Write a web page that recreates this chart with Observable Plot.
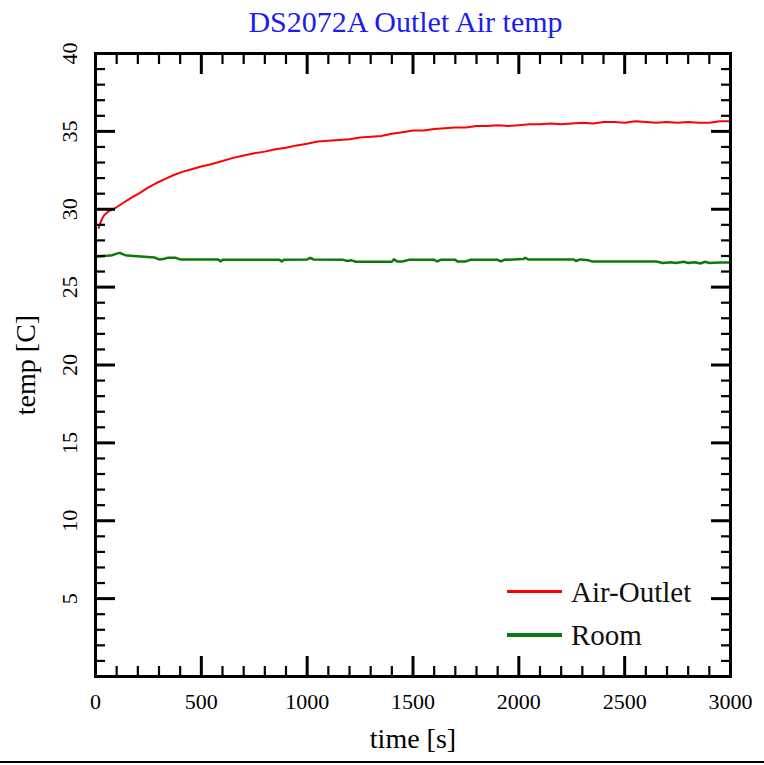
<!DOCTYPE html>
<html>
<head>
<meta charset="utf-8">
<script src="https://cdn.jsdelivr.net/npm/d3@7"></script>
<script src="https://cdn.jsdelivr.net/npm/@observablehq/plot@0.6"></script>
<style>
  body { margin: 0; background: #fff; font-family: "Liberation Serif", serif; }
  #wrap { position: relative; width: 764px; height: 765px; overflow: hidden; background: #fff; }
  #title { width: 764px; height: 40px; line-height: 44px; font-size: 30px; color: #1c1cf2;
           text-align: center; padding-left: 47px; box-sizing: border-box; white-space: nowrap; }
  .lg-line { position: absolute; left: 507px; width: 55px; }
  .lg-text { position: absolute; left: 571px; font-size: 29px; line-height: 29px; color: #111; white-space: nowrap; }
  #bottomline { position: absolute; left: 0; top: 761px; width: 764px; height: 2px; background: #000; }
</style>
</head>
<body>
<div id="wrap">
  <div id="title">DS2072A Outlet Air temp</div>
  <div id="chart"></div>
  <div class="lg-line" style="top:590px;height:3px;background:#ff0000;"></div>
  <div class="lg-text" style="top:578px;">Air-Outlet</div>
  <div class="lg-line" style="top:633px;height:3.5px;background:#0a7a0a;"></div>
  <div class="lg-text" style="top:621px;">Room</div>
  <div id="bottomline"></div>
</div>
<script>
// ---- data ----
const outletTime = [15, 20, 30, 40, 60, 90, 130, 170, 210, 250, 290, 330, 370, 410, 450, 500, 550, 600, 650, 700,
  750, 800, 850, 900, 950, 1000, 1050, 1100, 1150, 1200, 1250, 1300, 1350, 1400, 1450, 1500, 1550, 1600, 1650, 1700,
  1750, 1800, 1850, 1900, 1950, 2000, 2050, 2100, 2150, 2200, 2250, 2300, 2350, 2400, 2450, 2500, 2550, 2600, 2650,
  2700, 2750, 2800, 2850, 2900, 2950, 3000];
const outletTemp = [28.8, 29.0, 29.35, 29.6, 29.85, 30.05, 30.4, 30.75, 31.05, 31.4, 31.7, 31.95, 32.2, 32.4, 32.55,
  32.75, 32.9, 33.1, 33.3, 33.45, 33.6, 33.7, 33.85, 33.95, 34.1, 34.2, 34.35, 34.4, 34.45, 34.5, 34.6, 34.65, 34.7,
  34.85, 34.95, 35.05, 35.05, 35.15, 35.2, 35.25, 35.25, 35.35, 35.35, 35.4, 35.35, 35.4, 35.45, 35.45, 35.5, 35.45,
  35.5, 35.55, 35.5, 35.6, 35.6, 35.55, 35.65, 35.6, 35.55, 35.6, 35.55, 35.6, 35.55, 35.55, 35.65, 35.65];

const roomTime = [0, 40, 80, 100, 115, 140, 180, 230, 280, 300, 320, 340, 380, 400, 500, 580, 590, 600, 700, 870,
  880, 890, 1000, 1015, 1030, 1170, 1190, 1210, 1230, 1400, 1410, 1425, 1450, 1480, 1600, 1615, 1630, 1700, 1710,
  1750, 1770, 1900, 1915, 1930, 2020, 2030, 2045, 2260, 2270, 2290, 2330, 2345, 2650, 2680, 2720, 2740, 2780, 2800,
  2830, 2860, 2880, 2900, 2950, 3000];
const roomTemp = [26.95, 27.0, 27.05, 27.15, 27.2, 27.05, 27.0, 26.95, 26.9, 26.78, 26.8, 26.88, 26.88, 26.78, 26.78,
  26.78, 26.65, 26.75, 26.75, 26.75, 26.65, 26.75, 26.78, 26.88, 26.78, 26.75, 26.68, 26.72, 26.63, 26.63, 26.78,
  26.65, 26.65, 26.75, 26.75, 26.65, 26.75, 26.75, 26.65, 26.65, 26.75, 26.75, 26.65, 26.75, 26.8, 26.88, 26.78,
  26.78, 26.68, 26.78, 26.72, 26.65, 26.65, 26.55, 26.6, 26.55, 26.63, 26.55, 26.6, 26.52, 26.63, 26.55, 26.58, 26.58];

const xTickLabels = [0, 500, 1000, 1500, 2000, 2500, 3000];
const yTickLabels = [5, 10, 15, 20, 25, 30, 35, 40];
const xMajorTicks = [0, 500, 1000, 1500, 2000, 2500, 3000];
const yMajorTicks = [0, 5, 10, 15, 20, 25, 30, 35, 40];
const xMinorTicks = d3.range(0, 3001, 100).filter(v => v % 500 !== 0);
const yMinorTicks = d3.range(0, 41, 1).filter(v => v % 5 !== 0);

const outlet = outletTime.map((t, i) => ({t, v: outletTemp[i]}));
const room = roomTime.map((t, i) => ({t, v: roomTemp[i]}));

const noText = () => "";
const plain = d => String(d);
const tickMarks = [];
for (const anchor of ["bottom", "top"]) {
  tickMarks.push(Plot.axisX(xMinorTicks, {anchor, tickSize: -10, strokeWidth: 2.2, tickFormat: noText, label: null}));
  tickMarks.push(Plot.axisX(xMajorTicks, {anchor, tickSize: -20, strokeWidth: 3, tickFormat: noText, label: null}));
}
for (const anchor of ["left", "right"]) {
  tickMarks.push(Plot.axisY(yMinorTicks, {anchor, tickSize: -10, strokeWidth: 2.2, tickFormat: noText, label: null}));
  tickMarks.push(Plot.axisY(yMajorTicks, {anchor, tickSize: -20, strokeWidth: 3, tickFormat: noText, label: null}));
}

const chart = Plot.plot({
  width: 764,
  height: 725,
  marginTop: 13,
  marginBottom: 89,
  marginLeft: 95,
  marginRight: 34,
  style: {fontFamily: "Liberation Serif", fontSize: "22px", background: "white", color: "black", overflow: "visible"},
  x: {domain: [0, 3000], axis: null},
  y: {domain: [0, 40], axis: null},
  marks: [
    Plot.line(outlet, {x: "t", y: "v", stroke: "#ff0000", strokeWidth: 2}),
    Plot.line(room, {x: "t", y: "v", stroke: "#0a7a0a", strokeWidth: 2.5}),
    ...tickMarks,
    Plot.axisX(xTickLabels, {anchor: "bottom", tickSize: 0, tickPadding: 17, fontSize: 22, tickFormat: plain, label: null}),
    Plot.axisY(yTickLabels, {anchor: "left", tickSize: 0, tickPadding: 19, tickRotate: -90, fontSize: 22, tickFormat: plain, label: null}),
    Plot.axisX([], {anchor: "bottom", tickSize: 0, label: "time [s]", labelAnchor: "center", labelArrow: "none", labelOffset: 71, fontSize: 28}),
    Plot.axisY([], {anchor: "left", tickSize: 0, label: "temp [C]", labelAnchor: "center", labelArrow: "none", labelOffset: 80, fontSize: 28}),
    Plot.frame({stroke: "black", strokeWidth: 3})
  ]
});
document.getElementById("chart").appendChild(chart);
</script>
</body>
</html>
